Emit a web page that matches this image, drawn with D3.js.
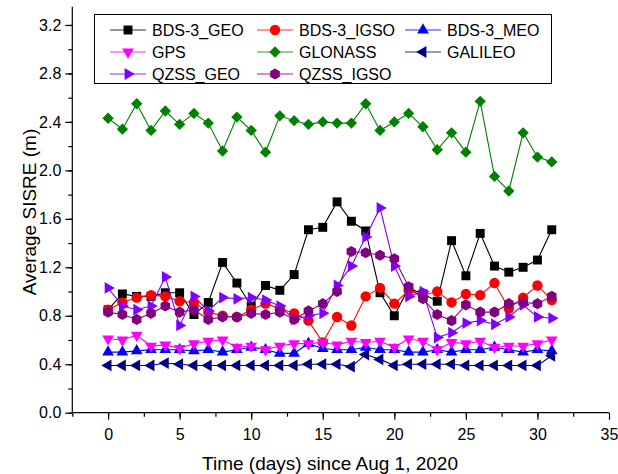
<!DOCTYPE html>
<html>
<head>
<meta charset="utf-8">
<script src="https://cdn.jsdelivr.net/npm/d3@7"></script>
<style>
  body { margin: 0; background: #fff; }
  svg { font-family: Arial, "Liberation Sans", sans-serif; }
</style>
</head>
<body>
<svg width="618" height="474"></svg>
<script>
// days since Aug 1, 2020
const days = d3.range(0, 32);

const bdsGeo = [0.85, 0.98, 0.96, 0.96, 0.99, 0.99, 0.81, 0.91, 1.24, 1.07, 0.88, 1.05, 1.01, 1.14, 1.51, 1.53,
  1.74, 1.58, 1.50, 0.99, 0.80, 1.03, 0.98, 0.92, 1.42, 1.13, 1.48, 1.21, 1.16, 1.20, 1.26, 1.51];
const bdsIgso = [0.85, 0.91, 0.95, 0.97, 0.96, 0.92, 0.91, 0.83, 0.80, 0.79, 0.85, 0.90, 0.86, 0.82, 0.76, 0.58,
  0.79, 0.72, 0.96, 1.03, 0.90, 1.01, 0.97, 1.00, 0.91, 0.98, 0.97, 1.07, 0.86, 0.95, 1.05, 0.93];
const bdsMeo = [0.50, 0.50, 0.51, 0.52, 0.52, 0.52, 0.51, 0.52, 0.50, 0.52, 0.54, 0.52, 0.49, 0.49, 0.57, 0.53,
  0.52, 0.52, 0.54, 0.52, 0.52, 0.50, 0.50, 0.52, 0.50, 0.52, 0.52, 0.54, 0.52, 0.50, 0.52, 0.51];
const gps = [0.61, 0.60, 0.64, 0.55, 0.56, 0.53, 0.57, 0.59, 0.60, 0.54, 0.55, 0.52, 0.55, 0.57, 0.57, 0.58,
  0.56, 0.59, 0.58, 0.59, 0.54, 0.61, 0.59, 0.52, 0.58, 0.57, 0.59, 0.54, 0.55, 0.55, 0.57, 0.60];
const glonass = [2.43, 2.34, 2.55, 2.33, 2.49, 2.38, 2.47, 2.39, 2.16, 2.44, 2.33, 2.15, 2.45, 2.41, 2.38, 2.40,
  2.39, 2.39, 2.55, 2.33, 2.40, 2.47, 2.36, 2.17, 2.31, 2.15, 2.57, 1.95, 1.83, 2.31, 2.11, 2.07];
const galileo = [0.39, 0.39, 0.39, 0.39, 0.41, 0.40, 0.39, 0.39, 0.39, 0.39, 0.39, 0.39, 0.39, 0.39, 0.40, 0.40,
  0.40, 0.38, 0.48, 0.44, 0.39, 0.40, 0.40, 0.40, 0.40, 0.39, 0.39, 0.39, 0.39, 0.39, 0.39, 0.47];
const qzssGeo = [1.03, 0.88, 0.85, 0.88, 1.12, 0.72, 0.96, 0.84, 0.95, 0.94, 0.95, 0.93, 0.88, 0.77, 0.80, 0.82,
  1.05, 1.21, 1.45, 1.69, 1.21, 0.96, 1.00, 0.62, 0.66, 0.74, 0.76, 0.73, 0.79, 0.89, 0.79, 0.78];
const qzssIgso = [0.83, 0.81, 0.77, 0.82, 0.88, 0.83, 0.85, 0.77, 0.79, 0.79, 0.82, 0.81, 0.83, 0.77, 0.84, 0.90,
  1.00, 1.33, 1.32, 1.30, 1.27, 1.04, 0.94, 0.81, 0.76, 0.89, 0.83, 0.83, 0.90, 0.91, 0.90, 0.96];

const xTicks = [0, 5, 10, 15, 20, 25, 30, 35];
const yTicks = [0.0, 0.4, 0.8, 1.2, 1.6, 2.0, 2.4, 2.8, 3.2];

// hexagon marker
const symbolHexagon = {
  draw(context, size) {
    const r = Math.sqrt(size / (1.5 * Math.sqrt(3)));
    for (let i = 0; i < 6; i++) {
      const a = Math.PI / 6 + i * Math.PI / 3;
      const px = r * Math.cos(a), py = r * Math.sin(a);
      if (i === 0) context.moveTo(px, py); else context.lineTo(px, py);
    }
    context.closePath();
  }
};

const series = [
  {name: "BDS-3_GEO", values: bdsGeo, color: "#000000", type: d3.symbolSquare, size: 80, rot: 0},
  {name: "BDS-3_IGSO", values: bdsIgso, color: "#ff0000", type: d3.symbolCircle, size: 85, rot: 0},
  {name: "BDS-3_MEO", values: bdsMeo, color: "#0000ff", type: d3.symbolTriangle, size: 60, rot: 0},
  {name: "GPS", values: gps, color: "#ff00ff", type: d3.symbolTriangle, size: 60, rot: 180},
  {name: "GLONASS", values: glonass, color: "#008000", type: d3.symbolSquare, size: 64, rot: 45},
  {name: "GALILEO", values: galileo, color: "#000080", type: d3.symbolTriangle, size: 60, rot: -90},
  {name: "QZSS_GEO", values: qzssGeo, color: "#8000ff", type: d3.symbolTriangle, size: 60, rot: 90},
  {name: "QZSS_IGSO", values: qzssIgso, color: "#800080", type: symbolHexagon, size: 80, rot: 0}
];

// chart dimensions
const margin = {top: 6.8, left: 72.3};
const width = 536.7;
const height = 405.9;

const x = d3.scaleLinear().domain([-2.5, 35]).range([0, width]);
const y = d3.scaleLinear().domain([0, 3.35]).range([height, 0]);

const svg = d3.select("svg")
  .append("g")
  .attr("transform", "translate(" + margin.left + "," + margin.top + ")");

// minor ticks
const xMinor = d3.axisBottom(x).tickValues(d3.range(-2.5, 35, 2.5)).tickSize(4).tickFormat("");
const yMinor = d3.axisLeft(y).tickValues(d3.range(0, 3.3, 0.2)).tickSize(4).tickFormat("");
svg.append("g").attr("transform", "translate(0," + height + ")").call(xMinor)
  .call(g => g.select(".domain").remove());
svg.append("g").call(yMinor).call(g => g.select(".domain").remove());

// main axes
const xAxis = d3.axisBottom(x).tickValues(xTicks).tickSize(7).tickPadding(9).tickFormat(d3.format("d"));
const yAxis = d3.axisLeft(y).tickValues(yTicks).tickSize(7).tickPadding(4).tickFormat(d3.format(".1f"));

svg.append("g")
  .attr("transform", "translate(0," + height + ")")
  .call(xAxis)
  .call(g => g.select(".domain").attr("d", "M0,0H" + width))
  .call(g => g.selectAll("text").attr("font-size", 16).attr("font-family", "Arial, 'Liberation Sans', sans-serif"));
svg.append("g")
  .call(yAxis)
  .call(g => g.select(".domain").attr("d", "M0," + height + "V0"))
  .call(g => g.selectAll("text").attr("font-size", 16).attr("font-family", "Arial, 'Liberation Sans', sans-serif"));

svg.selectAll(".domain, .tick line").attr("stroke", "#000").attr("stroke-width", 1.2);

// lines and markers
const line = d3.line()
  .x((d, i) => x(days[i]))
  .y(d => y(d));

series.forEach(s => {
  svg.append("path")
    .attr("d", line(s.values))
    .attr("fill", "none")
    .attr("stroke", s.color)
    .attr("stroke-width", 1.1);
  const sym = d3.symbol().type(s.type).size(s.size);
  svg.append("g").selectAll("path")
    .data(s.values)
    .join("path")
    .attr("d", sym)
    .attr("transform", (d, i) => "translate(" + x(days[i]) + "," + y(d) + ") rotate(" + s.rot + ")")
    .attr("fill", s.color);
});

// legend
const legend = d3.select("svg").append("g");
legend.append("rect")
  .attr("x", 94.5).attr("y", 14.5)
  .attr("width", 457).attr("height", 69)
  .attr("fill", "#fff").attr("stroke", "#000").attr("stroke-width", 1);

const colX = [110, 257, 405];
const rowY = [30, 52, 74];
series.forEach((s, i) => {
  const cx = colX[i % 3], cy = rowY[Math.floor(i / 3)];
  const item = legend.append("g").attr("transform", "translate(" + cx + "," + cy + ")");
  item.append("line")
    .attr("x1", 0).attr("x2", 36)
    .attr("stroke", s.color).attr("stroke-opacity", 0.55).attr("stroke-width", 1.5);
  item.append("path")
    .attr("d", d3.symbol().type(s.type).size(s.size)())
    .attr("transform", "translate(18,0) rotate(" + s.rot + ")")
    .attr("fill", s.color);
  item.append("text")
    .attr("x", 42).attr("y", 6)
    .attr("font-size", 16)
    .text(s.name);
});

// axis titles
d3.select("svg").append("text")
  .attr("x", 330).attr("y", 470)
  .attr("text-anchor", "middle")
  .attr("font-size", 19)
  .text("Time (days) since Aug 1, 2020");

d3.select("svg").append("text")
  .attr("transform", "translate(36,212) rotate(-90)")
  .attr("text-anchor", "middle")
  .attr("font-size", 19)
  .text("Average SISRE (m)");
</script>
</body>
</html>
